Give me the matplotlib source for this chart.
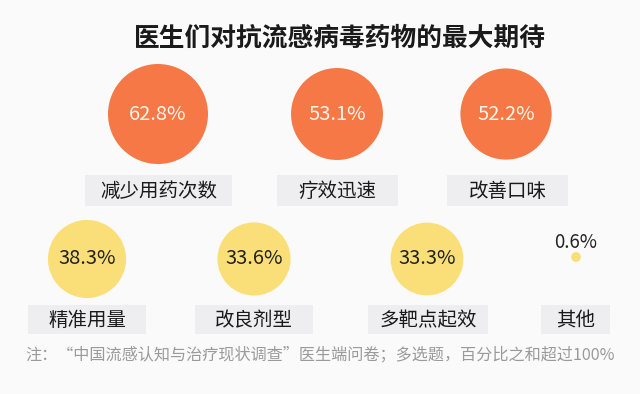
import matplotlib
matplotlib.use("Agg")
import matplotlib.pyplot as plt
from matplotlib.patches import Rectangle
import numpy as np

plt.rcParams['font.family'] = ['Noto Sans CJK SC', 'DejaVu Sans']

title = "医生们对抗流感病毒药物的最大期待"
categories = ["减少用药次数", "疗效迅速", "改善口味", "精准用量", "改良剂型", "多靶点起效", "其他"]
values = [62.8, 53.1, 52.2, 38.3, 33.6, 33.3, 0.6]
note = "注：“中国流感认知与治疗现状调查”医生端问卷；多选题，百分比之和超过100%"

# layout (pixels)
cx = [158, 337, 506, 87, 254, 427, 576]
cy = [114, 114, 114, 259, 259, 259, 257]
box_x = [(85, 232), (277, 398), (447, 568), (28, 146), (195, 313), (368, 488), (541, 610)]
box_y = [(175, 206), (175, 206), (175, 206), (305, 334), (305, 334), (305, 334), (305, 334)]
colors = ["#F57846"] * 3 + ["#FADF78"] * 4
txt_colors = ["#FFF4EC"] * 3 + ["#222222"] * 3

W, H, DPI = 640, 394, 100
fig = plt.figure(figsize=(W / DPI, H / DPI), dpi=DPI)
fig.patch.set_facecolor("#FAFAFA")
ax = fig.add_axes([0, 0, 1, 1])
ax.set_xlim(0, W)
ax.set_ylim(H, 0)
ax.axis("off")

R0 = 50  # radius in px for the max value
vmax = max(values)
sizes = [(2 * R0 * 72 / DPI) ** 2 * v / vmax for v in values]
ax.scatter(cx, cy, s=sizes, c=colors, edgecolors="none", zorder=2)

ax.text(340, 38, title, ha="center", va="center", fontsize=18.5,
        fontweight="bold", color="#1A1A1A")

for i, (cat, v) in enumerate(zip(categories, values)):
    x0, x1 = box_x[i]
    y0, y1 = box_y[i]
    ax.add_patch(Rectangle((x0, y0), x1 - x0, y1 - y0, facecolor="#EEEEF0",
                           edgecolor="none", zorder=1))
    ax.text((x0 + x1) / 2, (y0 + y1) / 2 + 1, cat, ha="center", va="center",
            fontsize=14, color="#1A1A1A", zorder=3)
    if i < 6:
        ax.text(cx[i], cy[i], f"{v}%", ha="center", va="center", fontsize=14.5,
                color=txt_colors[i], zorder=3)
    else:
        ax.text(cx[i], cy[i] - 15, f"{v}%", ha="center", va="center", fontsize=13.5,
                color="#222222", zorder=3)

ax.text(25, 355, note, ha="left", va="center", fontsize=11.6, color="#9A9A9A")

fig.savefig("out.png", dpi=DPI, facecolor=fig.get_facecolor())
